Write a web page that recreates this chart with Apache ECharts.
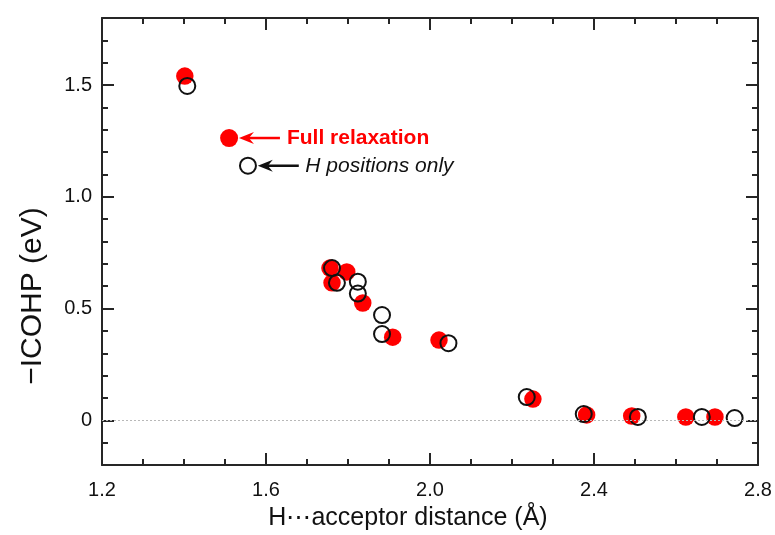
<!DOCTYPE html>
<html>
<head>
<meta charset="utf-8">
<script src="https://cdn.jsdelivr.net/npm/echarts@6/dist/echarts.min.js"></script>
<style>
html,body{margin:0;padding:0;background:#fff;}
#chart{width:775px;height:535px;}
</style>
</head>
<body>
<div id="chart"></div>
<script>
// ---- data ----
const fullX = [1.402, 1.756, 1.797, 1.761, 1.836, 1.909, 2.022, 2.251, 2.382, 2.492, 2.624, 2.695];
const fullY = [1.540, 0.681, 0.664, 0.615, 0.525, 0.372, 0.359, 0.095, 0.024, 0.019, 0.015, 0.015];
const hX = [1.408, 1.761, 1.773, 1.824, 1.824, 1.883, 1.883, 2.045, 2.236, 2.375, 2.507, 2.663, 2.743];
const hY = [1.496, 0.681, 0.615, 0.620, 0.567, 0.471, 0.386, 0.345, 0.104, 0.028, 0.015, 0.015, 0.010];

const xTickLabels = ['1.2', '1.6', '2.0', '2.4', '2.8'];
const yTickValues = [0, 0.5, 1.0, 1.5];
const yTickLabels = ['0', '0.5', '1.0', '1.5'];
const yMinorValues = [-0.1, 0.1, 0.2, 0.3, 0.4, 0.6, 0.7, 0.8, 0.9, 1.1, 1.2, 1.3, 1.4, 1.6, 1.7];

const seriesNames = ['Full relaxation', 'H positions only'];
const xTitle = 'H\u22EFacceptor distance (\u00C5)';
const yTitle = '\u2212ICOHP (eV)';

// annotation anchors in data coordinates
const annFullMarker = [1.510, 1.263];
const annFullArrow = [[1.634, 1.263], [1.534, 1.263]];
const annFullText = [1.651, 1.263];
const annHMarker = [1.556, 1.139];
const annHArrow = [[1.680, 1.139], [1.580, 1.139]];
const annHText = [1.696, 1.139];

const FONT = '"Liberation Sans", Arial, Helvetica, sans-serif';
const AX = '#262626';

function pairs(xs, ys){ return xs.map((x,i)=>[x, ys[i]]); }

const chart = echarts.init(document.getElementById('chart'), null, {renderer:'canvas'});

function xAxisDef(pos, showLabel){
  return {
    type:'value', position:pos, min:1.2, max:2.8, interval:0.4,
    axisLine:{show:true, onZero:false, lineStyle:{color:AX, width:2}},
    axisTick:{show:true, inside:true, length:12, lineStyle:{color:AX, width:2}},
    minorTick:{show:true, splitNumber:4, length:6, lineStyle:{color:AX, width:2}},
    splitLine:{show:false}, minorSplitLine:{show:false},
    axisLabel:{show:showLabel, margin:15, color:'#111', fontFamily:FONT, fontSize:20,
      formatter:(v)=>{ const i = Math.round((v-1.2)/0.4); return xTickLabels[i] || ''; }},
  };
}
function yAxisDef(pos, major, showLabel){
  return {
    type:'value', position:pos, min:-0.2, max:1.8,
    axisLine:{show:major, onZero:false, lineStyle:{color:AX, width:2}},
    axisTick:{show:true, inside:true, length: major ? 12 : 6, lineStyle:{color:AX, width:2},
      customValues: major ? yTickValues : yMinorValues},
    splitLine:{show:false},
    axisLabel:{show:showLabel, margin:10, color:'#111', fontFamily:FONT, fontSize:20,
      customValues: yTickValues,
      formatter:(v)=>{ const i = yTickValues.findIndex(t=>Math.abs(t-v)<1e-6); return i>=0 ? yTickLabels[i] : ''; }},
  };
}

const option = {
  backgroundColor:'#fff',
  animation:false,
  grid:{left:102, right:17, top:18, bottom:70, containLabel:false},
  xAxis:[xAxisDef('bottom', true), xAxisDef('top', false)],
  yAxis:[yAxisDef('left', true, true), yAxisDef('left', false, false),
         yAxisDef('right', true, false), yAxisDef('right', false, false)],
  series:[
    {
      name:seriesNames[0], type:'scatter', xAxisIndex:0, yAxisIndex:0,
      data:pairs(fullX, fullY), symbol:'circle', symbolSize:17.5,
      itemStyle:{color:'#ff0000', opacity:1},
      markLine:{
        silent:true, symbol:['none','none'], label:{show:false},
        lineStyle:{color:'#b8b8b8', type:[2,2], width:1},
        data:[{yAxis:0}]
      },
      z:2
    },
    {
      name:seriesNames[1], type:'scatter', xAxisIndex:0, yAxisIndex:0,
      data:pairs(hX, hY), symbol:'circle', symbolSize:16,
      itemStyle:{color:'rgba(0,0,0,0)', borderColor:'#111', borderWidth:2, opacity:1},
      z:3
    }
  ]
};
chart.setOption(option);

function px(p){ return chart.convertToPixel({xAxisIndex:0, yAxisIndex:0}, p); }

function arrowElems(from, to, color){
  const a = px(from), b = px(to);
  const L = 15, H = 6, N = 10;
  return [
    {type:'line', shape:{x1:a[0], y1:a[1], x2:b[0]+N, y2:b[1]}, style:{stroke:color, lineWidth:2.5}, z:10},
    {type:'polygon', shape:{points:[[b[0], b[1]], [b[0]+L, b[1]-H], [b[0]+N, b[1]], [b[0]+L, b[1]+H]]},
      style:{fill:color}, z:10}
  ];
}

const mf = px(annFullMarker), mh = px(annHMarker);
const tf = px(annFullText), th = px(annHText);

chart.setOption({
  graphic:[
    {type:'circle', shape:{cx:mf[0], cy:mf[1], r:9}, style:{fill:'#ff0000'}, z:10},
    ...arrowElems(annFullArrow[0], annFullArrow[1], '#ff0000'),
    {type:'text', x:tf[0], y:tf[1], style:{text:seriesNames[0], fill:'#ff0000', font:'bold 21px ' + FONT,
      textAlign:'left', textVerticalAlign:'middle'}, z:10},
    {type:'circle', shape:{cx:mh[0], cy:mh[1], r:8}, style:{fill:'rgba(0,0,0,0)', stroke:'#111', lineWidth:2}, z:10},
    ...arrowElems(annHArrow[0], annHArrow[1], '#111'),
    {type:'text', x:th[0], y:th[1], style:{text:seriesNames[1], fill:'#111', font:'italic 21px ' + FONT,
      textAlign:'left', textVerticalAlign:'middle'}, z:10},
    {type:'text', x:408, y:518, style:{text:xTitle, fill:'#111', font:'25px ' + FONT,
      textAlign:'center', textVerticalAlign:'middle'}, z:10},
    {type:'text', x:33, y:296, rotation:Math.PI/2, style:{text:yTitle, fill:'#111', font:'30px ' + FONT,
      textAlign:'center', textVerticalAlign:'middle'}, z:10}
  ]
});
</script>
</body>
</html>
